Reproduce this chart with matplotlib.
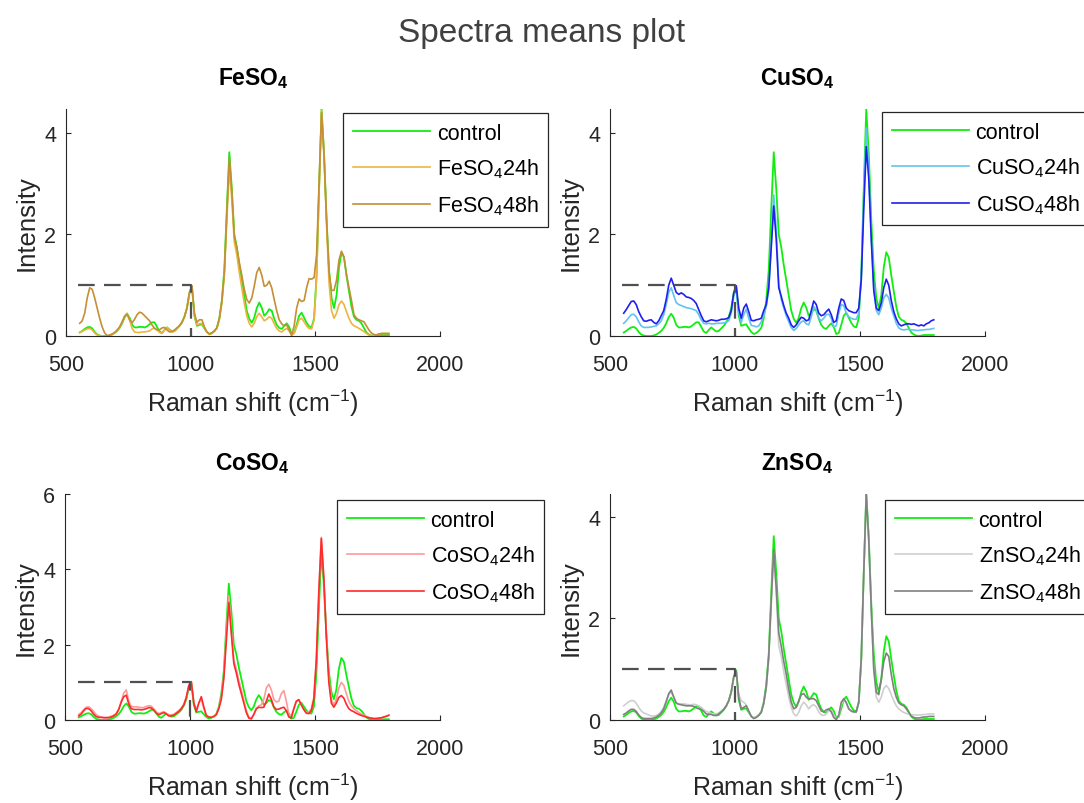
import numpy as np
import matplotlib
matplotlib.use('Agg')
import matplotlib.pyplot as plt

plt.rcParams['font.family'] = ['Liberation Sans', 'DejaVu Sans']
plt.rcParams['mathtext.default'] = 'regular'

raman_shift = np.arange(555, 1800, 10)

control = [
    0.07, 0.10, 0.14, 0.17, 0.18, 0.15, 0.08, 0.03, 0.01, 0.00,
    0.00, 0.00, 0.01, 0.03, 0.06, 0.10, 0.16, 0.25, 0.37, 0.44,
    0.36, 0.22, 0.17, 0.17, 0.18, 0.18, 0.17, 0.19, 0.23, 0.27,
    0.27, 0.18, 0.09, 0.06, 0.12, 0.17, 0.13, 0.09, 0.10, 0.15,
    0.20, 0.27, 0.38, 0.55, 0.85, 0.98, 0.40, 0.20, 0.22, 0.23,
    0.15, 0.08, 0.04, 0.06, 0.10, 0.16, 0.35, 0.70, 1.30, 2.50,
    3.62, 2.90, 2.00, 1.75, 1.40, 1.10, 0.80, 0.50, 0.34, 0.26,
    0.36, 0.55, 0.66, 0.56, 0.40, 0.45, 0.53, 0.50, 0.34, 0.22,
    0.16, 0.14, 0.20, 0.25, 0.18, 0.04, 0.06, 0.22, 0.40, 0.46,
    0.36, 0.26, 0.19, 0.17, 0.35, 1.20, 2.90, 4.47, 3.60, 2.30,
    1.30, 0.75, 0.55, 0.80, 1.35, 1.65, 1.55, 1.20, 0.88, 0.58,
    0.38, 0.32, 0.30, 0.25, 0.16, 0.07, 0.03, 0.01, 0.00, 0.01,
    0.02, 0.02, 0.02, 0.02, 0.02]

feso4_24h = [
    0.07, 0.09, 0.12, 0.14, 0.15, 0.12, 0.06, 0.02, 0.01, 0.00,
    0.00, 0.00, 0.01, 0.03, 0.06, 0.10, 0.17, 0.27, 0.40, 0.45,
    0.32, 0.15, 0.08, 0.07, 0.07, 0.08, 0.08, 0.09, 0.10, 0.14,
    0.16, 0.12, 0.07, 0.05, 0.12, 0.17, 0.12, 0.08, 0.09, 0.14,
    0.20, 0.27, 0.38, 0.55, 0.85, 0.97, 0.42, 0.22, 0.24, 0.25,
    0.16, 0.08, 0.03, 0.05, 0.09, 0.15, 0.33, 0.65, 1.20, 2.30,
    3.28, 2.70, 1.85, 1.60, 1.25, 0.95, 0.65, 0.40, 0.25, 0.18,
    0.25, 0.38, 0.45, 0.38, 0.30, 0.33, 0.38, 0.35, 0.24, 0.15,
    0.10, 0.08, 0.12, 0.15, 0.10, 0.02, 0.05, 0.18, 0.32, 0.35,
    0.28, 0.20, 0.15, 0.14, 0.32, 1.15, 2.85, 4.45, 3.55, 2.20,
    1.05, 0.50, 0.35, 0.45, 0.62, 0.69, 0.62, 0.48, 0.35, 0.25,
    0.20, 0.18, 0.15, 0.12, 0.09, 0.05, 0.02, 0.01, 0.00, 0.02,
    0.04, 0.05, 0.05, 0.05, 0.05]

feso4_48h = [
    0.25, 0.30, 0.45, 0.75, 0.95, 0.92, 0.75, 0.55, 0.35, 0.18,
    0.06, 0.01, 0.02, 0.04, 0.07, 0.12, 0.18, 0.28, 0.38, 0.43,
    0.32, 0.26, 0.33, 0.42, 0.47, 0.45, 0.40, 0.35, 0.30, 0.22,
    0.15, 0.12, 0.12, 0.16, 0.17, 0.12, 0.08, 0.09, 0.12, 0.16,
    0.20, 0.27, 0.38, 0.55, 0.85, 0.99, 0.45, 0.27, 0.32, 0.32,
    0.18, 0.08, 0.04, 0.06, 0.10, 0.16, 0.34, 0.68, 1.25, 2.40,
    3.52, 2.85, 1.95, 1.75, 1.45, 1.20, 0.92, 0.72, 0.65, 0.75,
    0.98, 1.25, 1.35, 1.20, 0.98, 1.00, 1.08, 0.95, 0.72, 0.50,
    0.32, 0.24, 0.20, 0.22, 0.12, 0.01, 0.20, 0.55, 0.73, 0.68,
    0.70, 0.95, 1.13, 1.12, 1.15, 1.60, 3.00, 4.40, 3.55, 2.30,
    1.25, 0.90, 0.90, 1.10, 1.50, 1.67, 1.55, 1.20, 0.95, 0.70,
    0.42, 0.35, 0.32, 0.30, 0.28, 0.20, 0.12, 0.06, 0.03, 0.02,
    0.04, 0.05, 0.05, 0.05, 0.05]

cuso4_24h = [
    0.25, 0.30, 0.36, 0.42, 0.43, 0.38, 0.28, 0.20, 0.17, 0.17,
    0.17, 0.18, 0.19, 0.20, 0.24, 0.30, 0.42, 0.62, 0.86, 0.95,
    0.80, 0.66, 0.62, 0.60, 0.58, 0.56, 0.55, 0.54, 0.52, 0.50,
    0.42, 0.32, 0.25, 0.24, 0.25, 0.24, 0.24, 0.25, 0.25, 0.25,
    0.26, 0.27, 0.30, 0.45, 0.78, 0.92, 0.45, 0.27, 0.42, 0.53,
    0.35, 0.21, 0.20, 0.18, 0.20, 0.28, 0.40, 0.58, 0.90, 1.80,
    2.78, 2.10, 1.05, 0.72, 0.55, 0.40, 0.28, 0.17, 0.11, 0.15,
    0.22, 0.28, 0.30, 0.24, 0.22, 0.38, 0.58, 0.52, 0.35, 0.30,
    0.35, 0.42, 0.43, 0.35, 0.18, 0.20, 0.45, 0.62, 0.60, 0.45,
    0.38, 0.35, 0.33, 0.33, 0.45, 1.20, 2.80, 4.10, 3.30, 2.00,
    0.95, 0.50, 0.42, 0.55, 0.75, 0.82, 0.75, 0.55, 0.40, 0.25,
    0.16, 0.13, 0.12, 0.13, 0.13, 0.12, 0.12, 0.11, 0.11, 0.12,
    0.12, 0.13, 0.13, 0.14, 0.15]

cuso4_48h = [
    0.45, 0.52, 0.60, 0.68, 0.69, 0.62, 0.48, 0.38, 0.30, 0.29,
    0.31, 0.32, 0.27, 0.24, 0.30, 0.40, 0.50, 0.72, 1.00, 1.14,
    1.00, 0.86, 0.82, 0.85, 0.82, 0.77, 0.76, 0.74, 0.70, 0.64,
    0.52, 0.40, 0.30, 0.28, 0.30, 0.32, 0.31, 0.30, 0.31, 0.33,
    0.33, 0.34, 0.36, 0.50, 0.85, 0.99, 0.55, 0.35, 0.55, 0.63,
    0.48, 0.31, 0.30, 0.32, 0.33, 0.35, 0.50, 0.62, 0.95, 1.75,
    2.56, 1.90, 0.95, 0.78, 0.60, 0.45, 0.35, 0.22, 0.17, 0.22,
    0.30, 0.37, 0.35, 0.30, 0.32, 0.50, 0.69, 0.62, 0.45, 0.40,
    0.42, 0.48, 0.53, 0.42, 0.27, 0.30, 0.55, 0.73, 0.70, 0.55,
    0.50, 0.48, 0.46, 0.46, 0.55, 1.10, 2.50, 3.73, 3.10, 1.90,
    0.90, 0.55, 0.50, 0.65, 0.95, 1.12, 1.00, 0.70, 0.48, 0.34,
    0.24, 0.20, 0.22, 0.24, 0.24, 0.23, 0.24, 0.22, 0.20, 0.22,
    0.20, 0.24, 0.26, 0.30, 0.32]

coso4_24h = [
    0.15, 0.20, 0.28, 0.34, 0.35, 0.30, 0.22, 0.14, 0.10, 0.08,
    0.07, 0.07, 0.08, 0.10, 0.13, 0.18, 0.30, 0.50, 0.72, 0.80,
    0.50, 0.36, 0.35, 0.35, 0.34, 0.33, 0.33, 0.36, 0.38, 0.37,
    0.30, 0.22, 0.17, 0.20, 0.22, 0.18, 0.14, 0.14, 0.15, 0.20,
    0.25, 0.32, 0.42, 0.60, 0.90, 1.00, 0.45, 0.28, 0.45, 0.55,
    0.30, 0.12, 0.08, 0.08, 0.10, 0.16, 0.32, 0.60, 1.20, 2.30,
    3.30, 2.40, 1.60, 1.35, 1.05, 0.80, 0.52, 0.25, 0.08, 0.05,
    0.15, 0.30, 0.38, 0.40, 0.55, 0.85, 0.95, 0.80, 0.55, 0.48,
    0.50, 0.70, 0.78, 0.50, 0.15, 0.12, 0.30, 0.50, 0.54, 0.40,
    0.28, 0.20, 0.22, 0.30, 0.60, 1.60, 3.40, 4.85, 3.80, 2.30,
    1.10, 0.55, 0.40, 0.55, 0.85, 1.00, 0.92, 0.70, 0.50, 0.38,
    0.30, 0.25, 0.20, 0.16, 0.13, 0.10, 0.07, 0.05, 0.04, 0.04,
    0.05, 0.06, 0.08, 0.10, 0.12]

coso4_48h = [
    0.11, 0.16, 0.25, 0.31, 0.30, 0.24, 0.15, 0.09, 0.07, 0.07,
    0.06, 0.06, 0.06, 0.08, 0.11, 0.16, 0.28, 0.48, 0.62, 0.66,
    0.42, 0.30, 0.28, 0.28, 0.28, 0.27, 0.28, 0.30, 0.33, 0.32,
    0.26, 0.18, 0.14, 0.17, 0.20, 0.16, 0.11, 0.11, 0.13, 0.18,
    0.23, 0.30, 0.40, 0.60, 0.92, 1.02, 0.45, 0.22, 0.45, 0.62,
    0.35, 0.12, 0.08, 0.07, 0.09, 0.14, 0.30, 0.55, 1.10, 2.10,
    3.12, 2.30, 1.50, 1.25, 0.95, 0.70, 0.45, 0.20, 0.05, 0.03,
    0.15, 0.30, 0.34, 0.33, 0.34, 0.50, 0.69, 0.55, 0.35, 0.28,
    0.29, 0.32, 0.34, 0.25, 0.08, 0.05, 0.30, 0.50, 0.54, 0.40,
    0.28, 0.18, 0.17, 0.25, 0.55, 1.60, 3.40, 4.82, 3.75, 2.20,
    1.00, 0.45, 0.34, 0.45, 0.60, 0.65, 0.58, 0.42, 0.30, 0.25,
    0.22, 0.18, 0.15, 0.12, 0.10, 0.08, 0.06, 0.05, 0.04, 0.04,
    0.05, 0.06, 0.08, 0.10, 0.13]

znso4_24h = [
    0.28, 0.32, 0.36, 0.38, 0.38, 0.33, 0.25, 0.18, 0.14, 0.12,
    0.10, 0.08, 0.08, 0.09, 0.12, 0.17, 0.25, 0.38, 0.50, 0.55,
    0.45, 0.35, 0.32, 0.32, 0.32, 0.31, 0.30, 0.30, 0.31, 0.30,
    0.28, 0.25, 0.20, 0.17, 0.15, 0.13, 0.12, 0.12, 0.14, 0.18,
    0.22, 0.28, 0.38, 0.55, 0.82, 0.92, 0.50, 0.38, 0.35, 0.30,
    0.18, 0.07, 0.05, 0.06, 0.10, 0.15, 0.32, 0.62, 1.20, 2.30,
    3.30, 2.50, 1.46, 1.25, 0.95, 0.70, 0.45, 0.25, 0.12, 0.08,
    0.15, 0.28, 0.35, 0.30, 0.22, 0.28, 0.30, 0.26, 0.16, 0.10,
    0.09, 0.12, 0.18, 0.20, 0.10, 0.02, 0.08, 0.30, 0.40, 0.35,
    0.22, 0.17, 0.15, 0.15, 0.35, 1.20, 2.90, 4.40, 3.55, 2.15,
    1.00, 0.45, 0.35, 0.45, 0.62, 0.68, 0.62, 0.50, 0.38, 0.28,
    0.22, 0.18, 0.15, 0.13, 0.11, 0.10, 0.10, 0.10, 0.10, 0.10,
    0.11, 0.11, 0.12, 0.12, 0.12]

znso4_48h = [
    0.11, 0.14, 0.18, 0.21, 0.21, 0.17, 0.10, 0.05, 0.03, 0.03,
    0.03, 0.03, 0.04, 0.06, 0.09, 0.14, 0.22, 0.36, 0.52, 0.59,
    0.45, 0.33, 0.31, 0.30, 0.29, 0.28, 0.28, 0.28, 0.27, 0.24,
    0.22, 0.21, 0.17, 0.12, 0.11, 0.11, 0.09, 0.09, 0.12, 0.16,
    0.21, 0.28, 0.38, 0.55, 0.85, 0.96, 0.45, 0.22, 0.25, 0.28,
    0.18, 0.07, 0.03, 0.05, 0.09, 0.15, 0.33, 0.65, 1.25, 2.35,
    3.36, 2.60, 1.72, 1.45, 1.15, 0.90, 0.60, 0.35, 0.22, 0.25,
    0.38, 0.50, 0.52, 0.45, 0.41, 0.42, 0.42, 0.38, 0.28, 0.18,
    0.16, 0.20, 0.22, 0.16, 0.05, 0.01, 0.10, 0.35, 0.42, 0.34,
    0.22, 0.18, 0.16, 0.16, 0.35, 1.20, 2.90, 4.44, 3.55, 2.20,
    1.00, 0.55, 0.50, 0.80, 1.15, 1.32, 1.25, 0.90, 0.62, 0.45,
    0.34, 0.30, 0.28, 0.22, 0.15, 0.08, 0.05, 0.04, 0.04, 0.05,
    0.06, 0.06, 0.07, 0.07, 0.07]

salts = ['FeSO$_4$', 'CuSO$_4$', 'CoSO$_4$', 'ZnSO$_4$']
series_24h = [feso4_24h, cuso4_24h, coso4_24h, znso4_24h]
series_48h = [feso4_48h, cuso4_48h, coso4_48h, znso4_48h]
colors_24h = ['#EDB443', '#62C3F0', '#FF9A9A', '#CFCFCF']
colors_48h = ['#C48F36', '#2020EE', '#FF2A2A', '#808080']
y_ticks = [[0, 2, 4], [0, 2, 4], [0, 2, 4, 6], [0, 2, 4]]
y_tops = [4.47, 4.47, 6, 4.45]
x_ticks = [500, 1000, 1500, 2000]

GREEN = '#10EE10'
DARK = '#262626'

positions = [[0.0609, 0.5808, 0.345, 0.2823],
             [0.5627, 0.5808, 0.346, 0.2823],
             [0.0600, 0.1032, 0.346, 0.2811],
             [0.5627, 0.1032, 0.346, 0.2811]]
legend_anchor = [(0.741, 0.982), (0.725, 0.987), (0.725, 0.973), (0.733, 0.973)]


def draw_panel(ax, i):
    ax.plot(raman_shift, control, color=GREEN, lw=1.3, label='control')
    ax.plot(raman_shift, series_24h[i], color=colors_24h[i], lw=1.2,
            label=salts[i] + '24h')
    ax.plot(raman_shift, series_48h[i], color=colors_48h[i], lw=1.2,
            label=salts[i] + '48h')
    ax.plot([550, 1000, 1000], [1, 1, 0], color='#505050', lw=1.6,
            ls=(0, (7.5, 4.2)))
    ax.set_xlim(500, 2000)
    ax.set_ylim(0, y_tops[i])
    ax.set_xticks(x_ticks)
    ax.set_yticks(y_ticks[i])
    for side in ['top', 'right']:
        ax.spines[side].set_visible(False)
    for side in ['left', 'bottom']:
        ax.spines[side].set_color(DARK)
        ax.spines[side].set_linewidth(0.8)
    ax.tick_params(direction='in', length=3.5, width=0.8, color=DARK,
                   labelcolor=DARK, labelsize=15.5)
    ax.tick_params(axis='x', pad=13)
    ax.tick_params(axis='y', pad=7)
    ax.set_xlabel('Raman shift (cm$^{-1}$)', fontsize=18, color=DARK, labelpad=8)
    ax.set_ylabel('Intensity', fontsize=18.5, color=DARK, labelpad=4)
    ax.set_title(salts[i], fontsize=16.5, fontweight='bold', pad=18)
    leg = ax.legend(loc='upper left', bbox_to_anchor=legend_anchor[i],
                    borderaxespad=0, fontsize=15.5, handlelength=3.6,
                    handletextpad=0.3, borderpad=0.45, labelspacing=0.6,
                    fancybox=False, framealpha=1)
    leg.get_frame().set_edgecolor(DARK)
    leg.get_frame().set_linewidth(0.9)


fig = plt.figure(figsize=(10.84, 8.04), dpi=100)
for i in range(4):
    ax = fig.add_axes(positions[i])
    draw_panel(ax, i)
fig.suptitle('Spectra means plot', fontsize=24, color='#404040', y=0.978)
fig.savefig('out.png', dpi=100)
